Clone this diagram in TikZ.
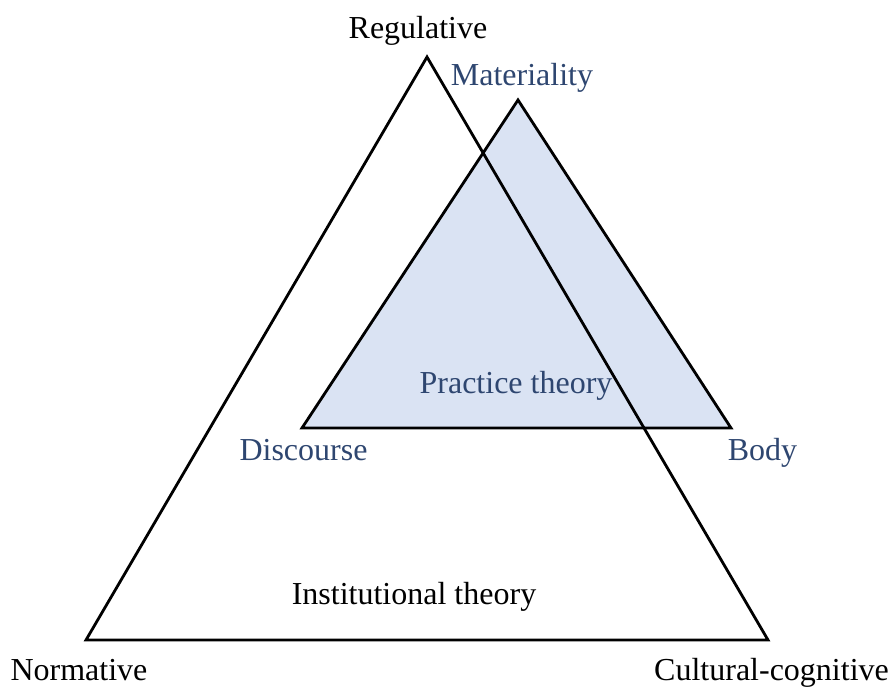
\documentclass[tikz,border=0pt]{standalone}
\usepackage{fontspec}
\setmainfont{Liberation Serif}
\definecolor{practiceblue}{HTML}{2E4670}
\definecolor{practicefill}{HTML}{DAE3F3}
\begin{document}
\begin{tikzpicture}[x=1pt,y=-1pt,
  edge/.style={line width=2.8pt,line join=miter,black},
  lbl/.style={inner sep=0pt,anchor=base,font=\fontsize{32}{38}\selectfont},
  instlbl/.style={lbl,text=black},
  praclbl/.style={lbl,text=practiceblue}]
\useasboundingbox (0,0) rectangle (890,688);
% vertices of the institutional triangle
\coordinate (reg) at (427,57);
\coordinate (norm) at (86,640);
\coordinate (cult) at (768,640);
% vertices of the practice triangle
\coordinate (mat) at (518,100);
\coordinate (disc) at (302,428);
\coordinate (body) at (731,428);
% practice triangle
\filldraw[edge,fill=practicefill] (mat) -- (disc) -- (body) -- cycle;
% institutional triangle
\draw[edge] (reg) -- (norm) -- (cult) -- cycle;
% labels
\node[instlbl] (lreg) at (418,38) {Regulative};
\node[instlbl] (lnorm) at (79,680) {Normative};
\node[instlbl] (lcult) at (771.5,680) {Cultural-cognitive};
\node[instlbl] (linst) at (414,604) {Institutional theory};
\node[praclbl] (lmat) at (522,85) {Materiality};
\node[praclbl] (ldisc) at (303.5,460) {Discourse};
\node[praclbl] (lbody) at (762.5,460) {Body};
\node[praclbl] (lprac) at (516,393) {Practice theory};
\end{tikzpicture}
\end{document}
